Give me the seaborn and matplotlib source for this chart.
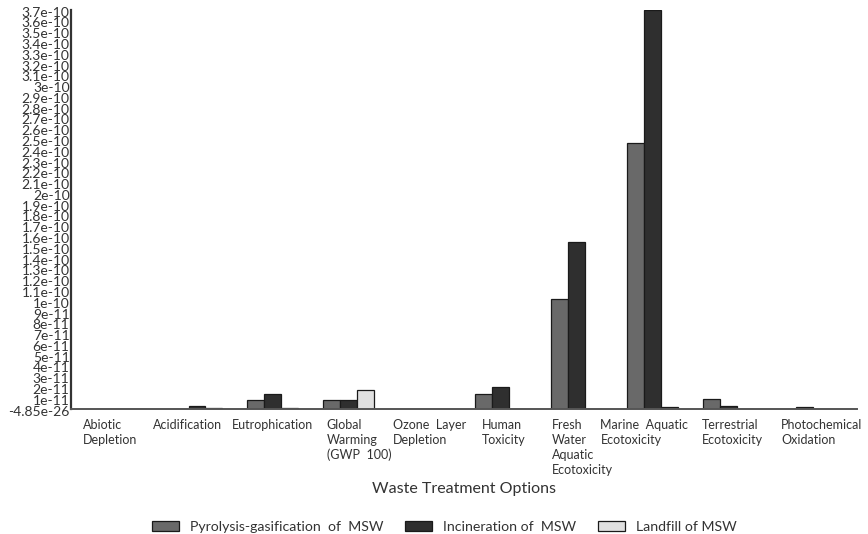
import matplotlib
matplotlib.use("Agg")
import matplotlib.pyplot as plt
import matplotlib.transforms as mtransforms
import seaborn as sns
import pandas as pd

# Impact categories (x axis) and treatment options (hue)
categories = [
    "Abiotic\nDepletion",
    "Acidification",
    "Eutrophication",
    "Global\nWarming\n(GWP  100)",
    "Ozone  Layer\nDepletion",
    "Human\nToxicity",
    "Fresh\nWater\nAquatic\nEcotoxicity",
    "Marine  Aquatic\nEcotoxicity",
    "Terrestrial\nEcotoxicity",
    "Photochemical\nOxidation",
]
options = ["Pyrolysis-gasification  of  MSW", "Incineration of  MSW", "Landfill of MSW"]

# Normalised impact values per option
pyrolysis = [0.0, 0.05e-11, 0.85e-11, 0.8e-11, 0.0, 1.4e-11, 10.2e-11, 24.7e-11, 0.95e-11, 0.05e-11]
incineration = [0.0, 0.25e-11, 1.35e-11, 0.8e-11, 0.0, 2.05e-11, 15.5e-11, 37.0e-11, 0.3e-11, 0.2e-11]
landfill = [0.0, 0.1e-11, 0.1e-11, 1.75e-11, 0.0, 0.05e-11, 0.0, 0.2e-11, 0.05e-11, 0.05e-11]

# Y tick values and their printed labels
ytick_values = [k * 1e-11 for k in range(38)]
ytick_labels = ["-4.85e-26"] + [f"{k}e-11" for k in range(1, 10)] + [
    f"{k / 10:g}e-10" for k in range(10, 38)
]

# Horizontal shift (pixels) of each wrapped category label's left edge from its tick
label_shift_px = [-38, -44, -41, -22, -32, -19, -25, -52, -26, -23]

df = pd.DataFrame({
    "category": categories * 3,
    "option": [options[0]] * 10 + [options[1]] * 10 + [options[2]] * 10,
    "value": pyrolysis + incineration + landfill,
})

sns.set_theme(style="white")
plt.rcParams["font.family"] = ["Lato", "DejaVu Sans"]

fig = plt.figure(figsize=(8.68, 5.34), dpi=100)
ax = fig.add_axes([0.0818, 0.234, 0.906, 0.747])

palette = {options[0]: "#696969", options[1]: "#2f2f2f", options[2]: "#e0e0e0"}
sns.barplot(data=df, x="category", y="value", hue="option", palette=palette,
            width=0.67, edgecolor="#1a1a1a", linewidth=0.9, saturation=1,
            ax=ax, legend=True)

ax.set_xlim(-0.66, 9.7)
ax.set_ylim(0, 3.7e-10)

ax.set_yticks(ytick_values)
ax.set_yticklabels(ytick_labels)
ax.tick_params(axis="y", direction="in", length=3, width=0.8, pad=1,
               labelsize=10, colors="#333333", labelcolor="#333333")
for lbl in ax.get_yticklabels():
    lbl.set_transform(lbl.get_transform() +
                      mtransforms.ScaledTranslation(0, -1.5 / 100, fig.dpi_scale_trans))

ax.set_xticks(range(len(categories)))
ax.set_xticklabels(categories, fontsize=9, color="#333333", ha="left",
                   multialignment="left", linespacing=1.3)
ax.tick_params(axis="x", direction="in", length=3, pad=7, colors="#999999",
               labelcolor="#333333")
for lbl, dx in zip(ax.get_xticklabels(), label_shift_px):
    lbl.set_transform(lbl.get_transform() +
                      mtransforms.ScaledTranslation(dx / 100, 0, fig.dpi_scale_trans))

ax.set_xlabel("Waste Treatment Options", fontsize=11.5, color="#333333", labelpad=4.5)
ax.set_ylabel("")

for s in ["top", "right"]:
    ax.spines[s].set_visible(False)
ax.spines["left"].set_color("#333333")
ax.spines["left"].set_linewidth(1.6)
ax.spines["bottom"].set_color("#555555")
ax.spines["bottom"].set_linewidth(1.4)

handles, labels = ax.get_legend_handles_labels()
ax.legend(handles, labels, loc="center", bbox_to_anchor=(0.512, 0.014),
          bbox_transform=fig.transFigure, ncol=3, frameon=False, fontsize=10.2,
          handlelength=1.9, handleheight=0.7, columnspacing=1.5, handletextpad=0.8,
          labelcolor="#333333", borderpad=0)

fig.savefig("out.png", dpi=100)
